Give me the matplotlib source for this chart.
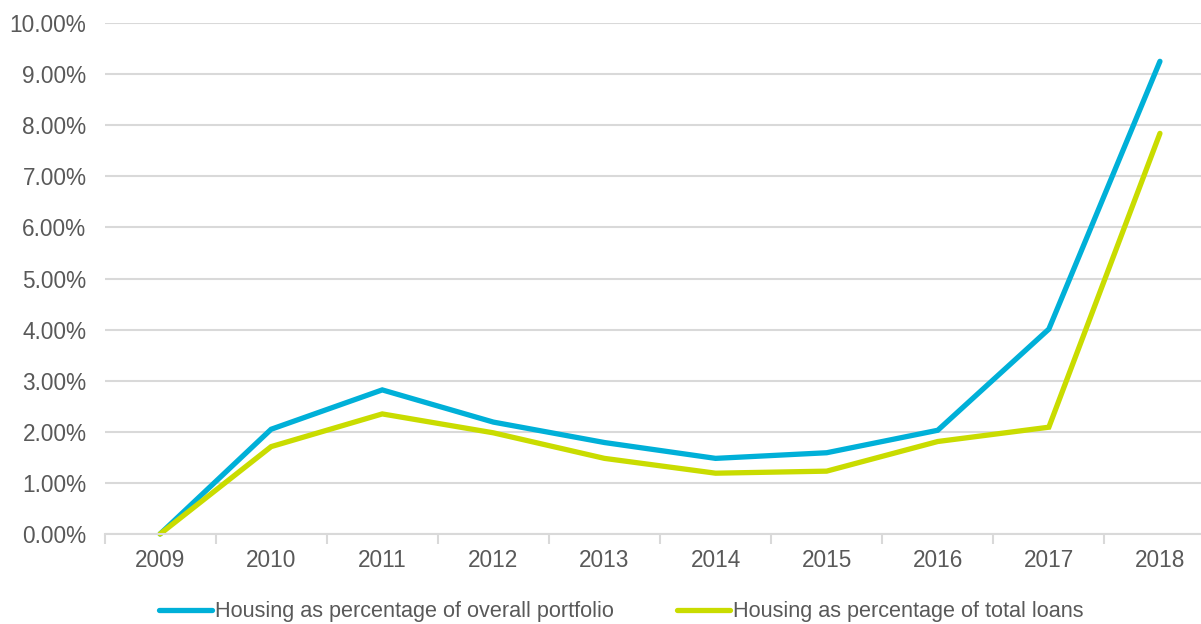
import matplotlib
matplotlib.use("Agg")
import matplotlib.pyplot as plt
from matplotlib.ticker import FuncFormatter, FixedLocator

years = ["2009", "2010", "2011", "2012", "2013", "2014", "2015", "2016", "2017", "2018"]
overall_portfolio = [0.00, 2.05, 2.82, 2.19, 1.79, 1.48, 1.59, 2.03, 4.01, 9.25]
total_loans = [0.00, 1.71, 2.35, 1.98, 1.48, 1.19, 1.23, 1.81, 2.09, 7.84]
series_names = ["Housing as percentage of overall portfolio",
                "Housing as percentage of total loans"]
colors = ["#00B0D8", "#C9DC00"]

plt.rcParams["font.family"] = ["Liberation Sans", "DejaVu Sans"]
text_color = "#595959"
grid_color = "#D9D9D9"

fig = plt.figure(figsize=(12.01, 6.24), dpi=100)
ax = fig.add_axes([104.5 / 1201, (624 - 534) / 624, 1111 / 1201, 511 / 624])

x = list(range(len(years)))
for vals, name, c in zip([overall_portfolio, total_loans], series_names, colors):
    ax.plot(x, vals, color=c, lw=3.8, label=name, solid_capstyle="round",
            solid_joinstyle="miter", clip_on=False)

ax.set_xlim(-0.5, len(years) - 0.5)
ax.set_ylim(0, 10)
ax.yaxis.set_major_locator(FixedLocator([i for i in range(11)]))
ax.yaxis.set_major_formatter(FuncFormatter(lambda v, p: f"{v:.2f}%"))
ax.grid(axis="y", color=grid_color, lw=1.5)
ax.set_axisbelow(True)

ax.set_xticks(x)
ax.set_xticklabels(years)
ax.tick_params(axis="x", length=0, pad=11, labelsize=16.3, labelcolor=text_color)
ax.set_xticks([i - 0.5 for i in range(len(years) + 1)], minor=True)
ax.tick_params(axis="x", which="minor", length=7, width=1.5, color=grid_color, direction="out")
ax.tick_params(axis="y", length=0, pad=13, labelsize=16.3, labelcolor=text_color)

for s in ["top", "right", "left"]:
    ax.spines[s].set_visible(False)
ax.spines["bottom"].set_color(grid_color)
ax.spines["bottom"].set_linewidth(1.5)

leg = fig.legend(loc="center left", bbox_to_anchor=(159 / 1201, 12 / 624), ncol=2,
                 frameon=False, fontsize=15.6, handlelength=2.45, handletextpad=0.14,
                 columnspacing=2.9, borderpad=0, borderaxespad=0)
for t in leg.get_texts():
    t.set_color(text_color)
for h in leg.legend_handles:
    h.set_linewidth(3.8)

fig.savefig("out.png", dpi=100)
